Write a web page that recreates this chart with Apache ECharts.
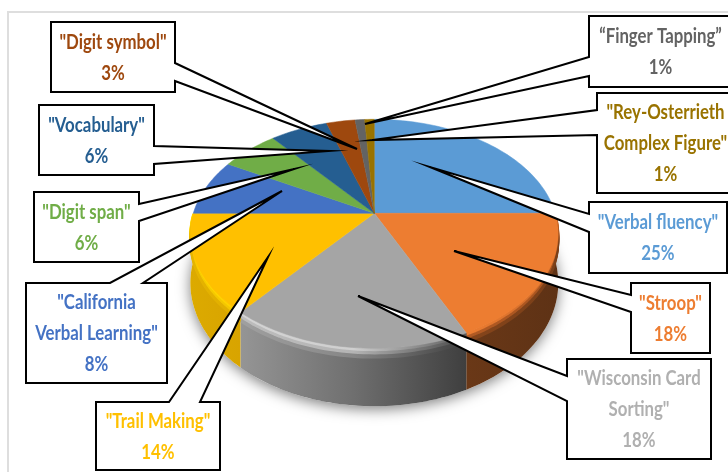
<!DOCTYPE html>
<html>
<head>
<meta charset="utf-8">
<style>html,body{margin:0;padding:0;background:#fff}#chart{width:728px;height:472px}</style>
<script src="https://cdn.jsdelivr.net/npm/echarts@6/dist/echarts.min.js"></script>
</head>
<body>
<div id="chart"></div>
<script>
// Neuropsychological test usage, clockwise from 12 o'clock
const testNames = ['"Verbal fluency"', '"Stroop"', '"Wisconsin Card\nSorting"', '"Trail Making"',
  '"California\nVerbal Learning"', '"Digit span"', '"Vocabulary"', '"Digit symbol"',
  '\u201cFinger Tapping\u201d', '"Rey-Osterrieth\nComplex Figure"'];
const shares = [25, 18, 18, 14, 8, 6, 6, 3, 1, 1];
const faceColors = ['#5B9BD5', '#ED7D31', '#A5A5A5', '#FFC000', '#4472C4', '#70AD47', '#255E91', '#9E480E', '#636363', '#997300'];
const labelColors = ['#5B9BD5', '#ED7D31', '#B0B0B0', '#FFC000', '#4472C4', '#70AD47', '#255E91', '#9E480E', '#636363', '#997300'];

// Callout layout: box [left, top, right, bottom], pointer side, pointer base, pointer tip
const calloutBoxes = [[589,202,727,273],[631,283,710,353],[567,359,711,459],[96,402,220,470],
  [26,283,167,383],[34,192,139,262],[39,105,154,175],[51,22,175,92],[589,16,732,87],[597,93,734,193]];
const calloutSides = ['left','left','left','top','top','right','right','right','left','left'];
const calloutBases = [[[589,214],[589,232]],[[631,295],[631,312]],[[567,376],[567,401]],[[169,402],[200,402]],
  [[110,283],[143,283]],[[139,204],[139,221]],[[154,146],[154,164]],[[175,63],[175,81]],[[589,57],[589,76]],[[597,110],[597,135]]];
const calloutTips = [[430,167],[454,251],[358,296],[268,257],[282,191],[294,169],[329,151],[357,149],[365,124],[372,140]];

// Tilted disc: projective view of a unit circle plus the depth of its wall
const disc = {cx: 374.3, cy: 213.3, a: 181, b: 110.8, k: 0.179, depth: 47.6};
function project(frac, radius, drop) {
  const ang = frac * 2 * Math.PI;
  const u = Math.sin(ang) * radius, v = -Math.cos(ang) * radius;
  const w = 1 - disc.k * v;
  return [disc.cx + disc.a * u / w, disc.cy + disc.b * v / w + (drop || 0) * disc.depth / w];
}

const total = shares.reduce((s, x) => s + x, 0);
let running = 0;
const sliceRows = shares.map((v, i) => {
  const row = [running / total, (running + v) / total, i];
  running += v;
  return row;
});

function arcPoints(f0, f1, drop, api) {
  const n = Math.max(2, Math.ceil((f1 - f0) * 240));
  const pts = [];
  for (let j = 0; j <= n; j++) pts.push(api.coord(project(f0 + (f1 - f0) * j / n, 1, drop)));
  return pts;
}
function hGrad(x0, x1, stops) {
  return {type: 'linear', x: x0, y: 0, x2: x1, y2: 0, global: true,
    colorStops: stops.map((c, i) => ({offset: i / (stops.length - 1), color: c}))};
}

// Side wall and rounded rim shading for the slices facing the viewer
const wallStyle = {
  1: {wall: ['#6a3817', '#5e3215'], rim: [['#ED7D31','#c9692a'],['#b25a23','#a8541f'],['#86451b','#7a3f18']]},
  2: {wall: ['#959595', '#6f6f6f', '#3f3f3f'], rim: [['#d4d4d4','#cfcfcf','#5a5a5a'],['#bdbdbd','#b4b4b4','#4a4a4a'],['#a0a0a0','#868686','#404040']]},
  3: {wall: ['#dcaa00', '#d8a400'], rim: [['#FFD800','#ffd000'],['#f7cd00','#f2c400'],['#e6b400','#e0ae00']]}
};

function renderWall(params, api) {
  const i = api.value(2);
  const style = wallStyle[i];
  const f0 = Math.max(api.value(0), 0.25), f1 = Math.min(api.value(1), 0.75);
  if (!style || f1 <= f0) return {type: 'group', children: []};
  const top = arcPoints(f0, f1, 0, api), bottom = arcPoints(f0, f1, 1, api);
  const xs = top.concat(bottom).map(p => p[0]);
  const x0 = Math.min(...xs), x1 = Math.max(...xs);
  const children = [{type: 'polygon', shape: {points: top.concat(bottom.slice().reverse())},
    style: {fill: hGrad(x0, x1, style.wall)}}];
  // Stepped offsets along the rim fake the bevel highlight
  style.rim.forEach((stops, s) => {
    for (let d = 0; d < 3; d++) {
      const drop = (s * 3 + d) * 0.6 / disc.depth * 1.5;
      children.push({type: 'polyline', shape: {points: arcPoints(f0, f1, drop + 0.01, api)},
        style: {fill: 'none', stroke: hGrad(x0, x1, stops), lineWidth: 2}});
    }
  });
  return {type: 'group', children};
}

function renderFace(params, api) {
  const i = api.value(2);
  const pts = arcPoints(api.value(0), api.value(1), 0, api);
  pts.push(api.coord([disc.cx, disc.cy]));
  return {type: 'polygon', shape: {points: pts}, style: {fill: faceColors[i], stroke: faceColors[i], lineWidth: 0.5}};
}

// Soft ground shadow below the disc
function renderShadow(params, api) {
  const pts = arcPoints(0, 1, 1, api);
  return {type: 'polygon', shape: {points: pts},
    style: {fill: '#ffffff', shadowBlur: 14, shadowColor: 'rgba(0,0,0,0.5)', shadowOffsetY: 3}};
}

function renderCallout(params, api) {
  const i = api.value(0);
  const b = calloutBoxes[i], side = calloutSides[i], base = calloutBases[i], tip = calloutTips[i];
  const tl = [b[0], b[1]], tr = [b[2], b[1]], br = [b[2], b[3]], bl = [b[0], b[3]];
  let path;
  if (side === 'top') path = [tl, base[0], tip, base[1], tr, br, bl];
  else if (side === 'right') path = [tl, tr, base[0], tip, base[1], br, bl];
  else path = [tl, tr, br, bl, base[1], tip, base[0]];
  const children = [{type: 'polygon', shape: {points: path.map(p => api.coord(p))},
    style: {fill: '#ffffff', stroke: '#000000', lineWidth: 2, lineJoin: 'miter', miterLimit: 20}}];
  const lines = testNames[i].split('\n').concat([shares[i] + '%']);
  const center = api.coord([(b[0] + b[2]) / 2, (b[1] + b[3]) / 2 + 0.5]);
  lines.forEach((line, n) => {
    children.push({type: 'group', x: center[0], y: center[1] + (n - (lines.length - 1) / 2) * 30.8, scaleX: 0.8,
      children: [{type: 'text', style: {text: line, x: 0, y: 0, fill: labelColors[i],
        font: 'bold 21px Lato', textAlign: 'center', textVerticalAlign: 'middle'}}]});
  });
  return {type: 'group', children};
}

const chart = echarts.init(document.getElementById('chart'), null, {renderer: 'canvas'});
chart.setOption({
  animation: false,
  backgroundColor: '#ffffff',
  grid: {left: 0, right: 0, top: 0, bottom: 0},
  xAxis: {type: 'value', min: 0, max: 728, show: false},
  yAxis: {type: 'value', min: 0, max: 472, inverse: true, show: false},
  graphic: [{type: 'rect', z: -1, shape: {x: 8, y: 12, width: 800, height: 520},
    style: {fill: 'none', stroke: '#dedede', lineWidth: 2}}],
  series: [
    {type: 'custom', coordinateSystem: 'cartesian2d', clip: false, data: [[0]], renderItem: renderShadow, encode: {x: 0, y: 0}, silent: true},
    {type: 'custom', coordinateSystem: 'cartesian2d', clip: false, data: sliceRows, renderItem: renderWall, encode: {x: 0, y: 1}, silent: true},
    {type: 'custom', coordinateSystem: 'cartesian2d', clip: false, data: sliceRows, renderItem: renderFace, encode: {x: 0, y: 1}, silent: true},
    {type: 'custom', coordinateSystem: 'cartesian2d', clip: false, data: shares.map((v, i) => [i]), renderItem: renderCallout, encode: {x: 0, y: 0}, silent: true}
  ]
});
</script>
</body>
</html>
